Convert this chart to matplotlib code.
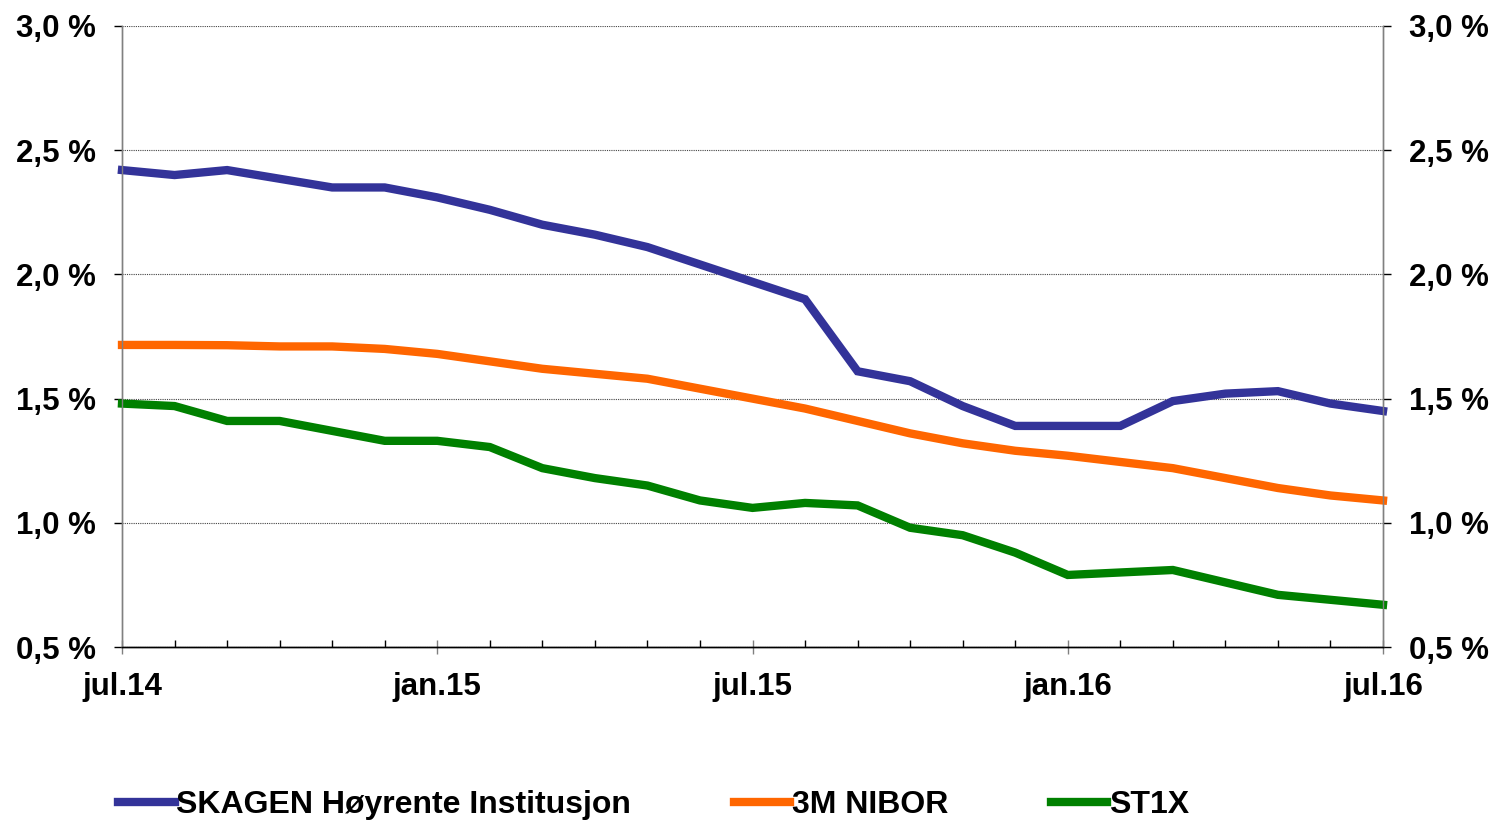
import matplotlib
matplotlib.use("Agg")
import matplotlib.pyplot as plt
from matplotlib import font_manager
from matplotlib.ticker import FixedLocator, FuncFormatter

# monthly values jul.14 - jul.16 (percent)
months = ["jul.14", "aug.14", "sep.14", "okt.14", "nov.14", "des.14",
          "jan.15", "feb.15", "mar.15", "apr.15", "mai.15", "jun.15",
          "jul.15", "aug.15", "sep.15", "okt.15", "nov.15", "des.15",
          "jan.16", "feb.16", "mar.16", "apr.16", "mai.16", "jun.16", "jul.16"]

skagen = [2.42, 2.40, 2.42, 2.385, 2.35, 2.35, 2.31, 2.26, 2.20, 2.16, 2.11, 2.04,
          1.97, 1.90, 1.61, 1.57, 1.47, 1.39, 1.39, 1.39, 1.49, 1.52, 1.53, 1.48, 1.45]
nibor = [1.716, 1.716, 1.715, 1.71, 1.71, 1.70, 1.68, 1.65, 1.62, 1.60, 1.58, 1.54,
         1.50, 1.46, 1.41, 1.36, 1.32, 1.29, 1.27, 1.245, 1.22, 1.18, 1.14, 1.11, 1.09]
st1x = [1.48, 1.47, 1.41, 1.41, 1.37, 1.33, 1.33, 1.305, 1.22, 1.18, 1.15, 1.09,
        1.06, 1.08, 1.07, 0.98, 0.95, 0.88, 0.79, 0.80, 0.81, 0.76, 0.71, 0.69, 0.67]

labels = ["SKAGEN Høyrente Institusjon", "3M NIBOR", "ST1X"]
colors = ["#333399", "#FF6600", "#008000"]

y_ticks = [0.5, 1.0, 1.5, 2.0, 2.5, 3.0]

names = {f.name for f in font_manager.fontManager.ttflist}
main_font = "Liberation Sans" if "Liberation Sans" in names else "DejaVu Sans"
legend_font = "Liberation Sans Narrow" if "Liberation Sans Narrow" in names else main_font

plt.rcParams["font.family"] = [main_font, "DejaVu Sans"]

fig = plt.figure(figsize=(14.95, 8.22), dpi=100)
ax = fig.add_axes([122 / 1495, 1 - 647 / 822, (1383 - 122) / 1495, (647 - 26) / 822])

x = list(range(len(months)))
for vals, lab, col in zip([skagen, nibor, st1x], labels, colors):
    ax.plot(x, vals, color=col, lw=6, label=lab, solid_joinstyle="miter", clip_on=False, zorder=3)

ax.set_xlim(0, len(months) - 1)
ax.set_ylim(0.5, 3.0)

fmt = FuncFormatter(lambda v, p: f"{v:.1f} %".replace(".", ","))
ax.yaxis.set_major_locator(FixedLocator(y_ticks))
ax.yaxis.set_major_formatter(fmt)
ax.grid(axis="y", color="#444444", linestyle=(0, (1, 1)), lw=0.8, zorder=1)

ax2 = ax.twinx()
ax2.set_ylim(ax.get_ylim())
ax2.yaxis.set_major_locator(FixedLocator(y_ticks))
ax2.yaxis.set_major_formatter(fmt)

major = [i for i, m in enumerate(months) if m.startswith(("jan", "jul"))]
ax.set_xticks(major)
ax.set_xticklabels([months[i] for i in major])
ax.set_xticks(x, minor=True)

for a in (ax, ax2):
    a.spines["top"].set_visible(False)
    a.spines["left"].set_color("#808080")
    a.spines["right"].set_color("#808080")
    a.spines["left"].set_linewidth(1)
    a.spines["right"].set_linewidth(1)
    a.spines["bottom"].set_linewidth(1)
    a.tick_params(axis="y", length=6, width=1, color="black", labelsize=22.5, pad=13)
    for t in a.get_yticklabels():
        t.set_fontweight("bold")

ax.tick_params(axis="x", which="major", direction="inout", length=10, width=1,
               color="#808080", labelsize=22.5, pad=13)
ax.tick_params(axis="x", which="minor", direction="in", length=5, width=1, color="black")
for t in ax.get_xticklabels():
    t.set_fontweight("bold")

fig.legend(loc="center left", bbox_to_anchor=(118 / 1495, 1 - 805 / 822), ncol=3,
           frameon=False, handlelength=1.78, handletextpad=0.05, columnspacing=3.2,
           borderaxespad=0, borderpad=0, prop={"family": legend_font, "weight": "bold", "size": 23})

fig.savefig("out.png", dpi=100)
